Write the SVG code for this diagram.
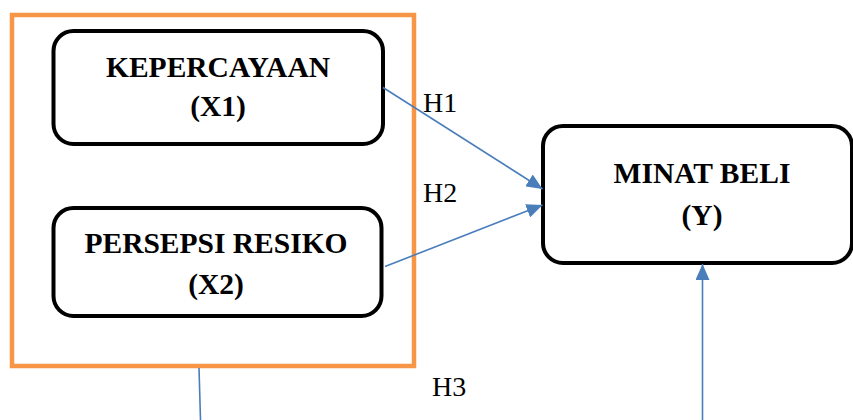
<svg xmlns="http://www.w3.org/2000/svg" width="853" height="420" viewBox="0 0 853 420">
<style>
.box{fill:#fff;stroke:#000;stroke-width:4}
.t{font-family:"Liberation Serif","Times New Roman",serif;font-weight:bold;font-size:29.5px;text-anchor:middle;fill:#000}
.h{font-family:"Liberation Serif","Times New Roman",serif;font-size:28px;fill:#000}
.c{stroke:#4a7ebb;stroke-width:1.6;fill:none}
</style>
<defs>
<marker id="ah" markerUnits="userSpaceOnUse" markerWidth="16" markerHeight="14" refX="16" refY="7" orient="auto">
<path d="M0,0 L16,7 L0,14 Z" fill="#4a7ebb"/>
</marker>
</defs>
<g id="group-x">
<rect x="12" y="15" width="402" height="351" fill="none" stroke="#f79646" stroke-width="4.5"/>
</g>
<g id="node-x1">
<rect class="box" x="53.5" y="31" width="329.5" height="113" rx="20"/>
<text class="t" x="218" y="77">KEPERCAYAAN</text>
<text class="t" x="218" y="116">(X1)</text>
</g>
<g id="node-x2">
<rect class="box" x="53.5" y="208" width="328" height="108" rx="20"/>
<text class="t" x="216" y="253">PERSEPSI RESIKO</text>
<text class="t" x="216" y="294">(X2)</text>
</g>
<g id="node-y">
<rect class="box" x="543" y="126" width="309" height="137" rx="20"/>
<text class="t" x="702" y="183">MINAT BELI</text>
<text class="t" x="702" y="225">(Y)</text>
</g>
<g id="connectors">
<line class="c" x1="383" y1="87.5" x2="542.5" y2="189" marker-end="url(#ah)"/>
<line class="c" x1="385" y1="266.5" x2="542.5" y2="205" marker-end="url(#ah)"/>
<line class="c" x1="199" y1="368" x2="200.5" y2="420"/>
<line class="c" x1="702.5" y1="420" x2="702.5" y2="264" marker-end="url(#ah)"/>
</g>
<g id="labels">
<text class="h" x="423" y="112">H1</text>
<text class="h" x="423" y="202">H2</text>
<text class="h" x="432" y="396">H3</text>
</g>
</svg>
